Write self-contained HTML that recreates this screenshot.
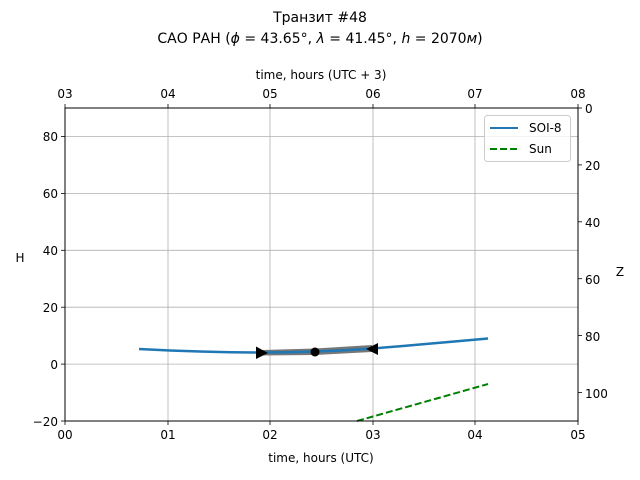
<!DOCTYPE html>
<html><head><meta charset="utf-8"><style>body{margin:0;background:#fff}svg{display:block}text{font-family:"DejaVu Sans","Liberation Sans",sans-serif;fill:#000}</style></head><body>
<svg width="640" height="480" viewBox="0 0 640 480" xmlns="http://www.w3.org/2000/svg">
<text x="320" y="22" font-size="14" text-anchor="middle">Транзит #48</text>
<text x="320" y="43" font-size="14" text-anchor="middle">САО РАН (<tspan font-style="italic">ϕ</tspan> = 43.65°, <tspan font-style="italic">λ</tspan> = 41.45°, <tspan font-style="italic">h</tspan> = 2070<tspan font-style="italic">м</tspan>)</text>
<g stroke="#b0b0b0" stroke-width="0.8">
<line x1="168" y1="108" x2="168" y2="421"/><line x1="270" y1="108" x2="270" y2="421"/><line x1="373" y1="108" x2="373" y2="421"/><line x1="475" y1="108" x2="475" y2="421"/>
<line x1="65" y1="136.5" x2="578" y2="136.5"/><line x1="65" y1="193.4" x2="578" y2="193.4"/><line x1="65" y1="250.3" x2="578" y2="250.3"/><line x1="65" y1="307.2" x2="578" y2="307.2"/><line x1="65" y1="364.1" x2="578" y2="364.1"/>
</g>
<polygon points="262,350 315,348.5 372,345 372,352 315,355 262,355.5" fill="#777"/>
<polyline points="139,349 170,350.5 200,351.5 230,352.3 262,352.5 290,352.2 315,351.5 345,350.2 372,348.5 400,346.3 430,343.6 460,341 488,338.5" fill="none" stroke="#1f77b4" stroke-width="2.5"/>
<line x1="357" y1="421" x2="488" y2="384" stroke="#008000" stroke-width="2" stroke-dasharray="7,3"/>
<polygon points="256,346.5 268,353 256,359" fill="#000"/>
<polygon points="378,343 366,349 378,355" fill="#000"/>
<circle cx="315" cy="352" r="4.5" fill="#000"/>
<rect x="65" y="108" width="513" height="313" fill="none" stroke="#000" stroke-width="1"/>
<g stroke="#000" stroke-width="0.8">
<line x1="65" y1="421" x2="65" y2="425"/><line x1="168" y1="421" x2="168" y2="425"/><line x1="270" y1="421" x2="270" y2="425"/><line x1="373" y1="421" x2="373" y2="425"/><line x1="475" y1="421" x2="475" y2="425"/><line x1="578" y1="421" x2="578" y2="425"/>
<line x1="65" y1="108" x2="65" y2="104"/><line x1="168" y1="108" x2="168" y2="104"/><line x1="270" y1="108" x2="270" y2="104"/><line x1="373" y1="108" x2="373" y2="104"/><line x1="475" y1="108" x2="475" y2="104"/><line x1="578" y1="108" x2="578" y2="104"/>
<line x1="61" y1="136.5" x2="65" y2="136.5"/><line x1="61" y1="193.4" x2="65" y2="193.4"/><line x1="61" y1="250.3" x2="65" y2="250.3"/><line x1="61" y1="307.2" x2="65" y2="307.2"/><line x1="61" y1="364.1" x2="65" y2="364.1"/><line x1="61" y1="421" x2="65" y2="421"/>
<line x1="578" y1="108" x2="582" y2="108"/><line x1="578" y1="164.9" x2="582" y2="164.9"/><line x1="578" y1="221.8" x2="582" y2="221.8"/><line x1="578" y1="278.7" x2="582" y2="278.7"/><line x1="578" y1="335.6" x2="582" y2="335.6"/><line x1="578" y1="392.5" x2="582" y2="392.5"/>
</g>
<g font-size="12" text-anchor="middle">
<text x="65" y="439">00</text><text x="168" y="439">01</text><text x="270" y="439">02</text><text x="373" y="439">03</text><text x="475" y="439">04</text><text x="578" y="439">05</text>
<text x="65" y="98">03</text><text x="168" y="98">04</text><text x="270" y="98">05</text><text x="373" y="98">06</text><text x="475" y="98">07</text><text x="578" y="98">08</text>
<text x="321" y="462">time, hours (UTC)</text><text x="321" y="79">time, hours (UTC + 3)</text>
<text x="20" y="262">H</text><text x="620" y="276">Z</text>
</g>
<g font-size="12" text-anchor="end">
<text x="58" y="141">80</text><text x="58" y="198">60</text><text x="58" y="255">40</text><text x="58" y="312">20</text><text x="58" y="369">0</text><text x="58" y="426">−20</text>
</g>
<g font-size="12">
<text x="585" y="113">0</text><text x="585" y="170">20</text><text x="585" y="227">40</text><text x="585" y="284">60</text><text x="585" y="341">80</text><text x="585" y="398">100</text>
</g>
<rect x="484.5" y="115.5" width="86" height="46" rx="3" fill="#fff" fill-opacity="0.8" stroke="#ccc"/>
<line x1="490" y1="128" x2="518" y2="128" stroke="#1f77b4" stroke-width="2"/>
<text x="529" y="132" font-size="12">SOI-8</text>
<line x1="490" y1="149" x2="518" y2="149" stroke="#008000" stroke-width="2" stroke-dasharray="7,3"/>
<text x="529" y="153" font-size="12">Sun</text>
</svg>
</body></html>
